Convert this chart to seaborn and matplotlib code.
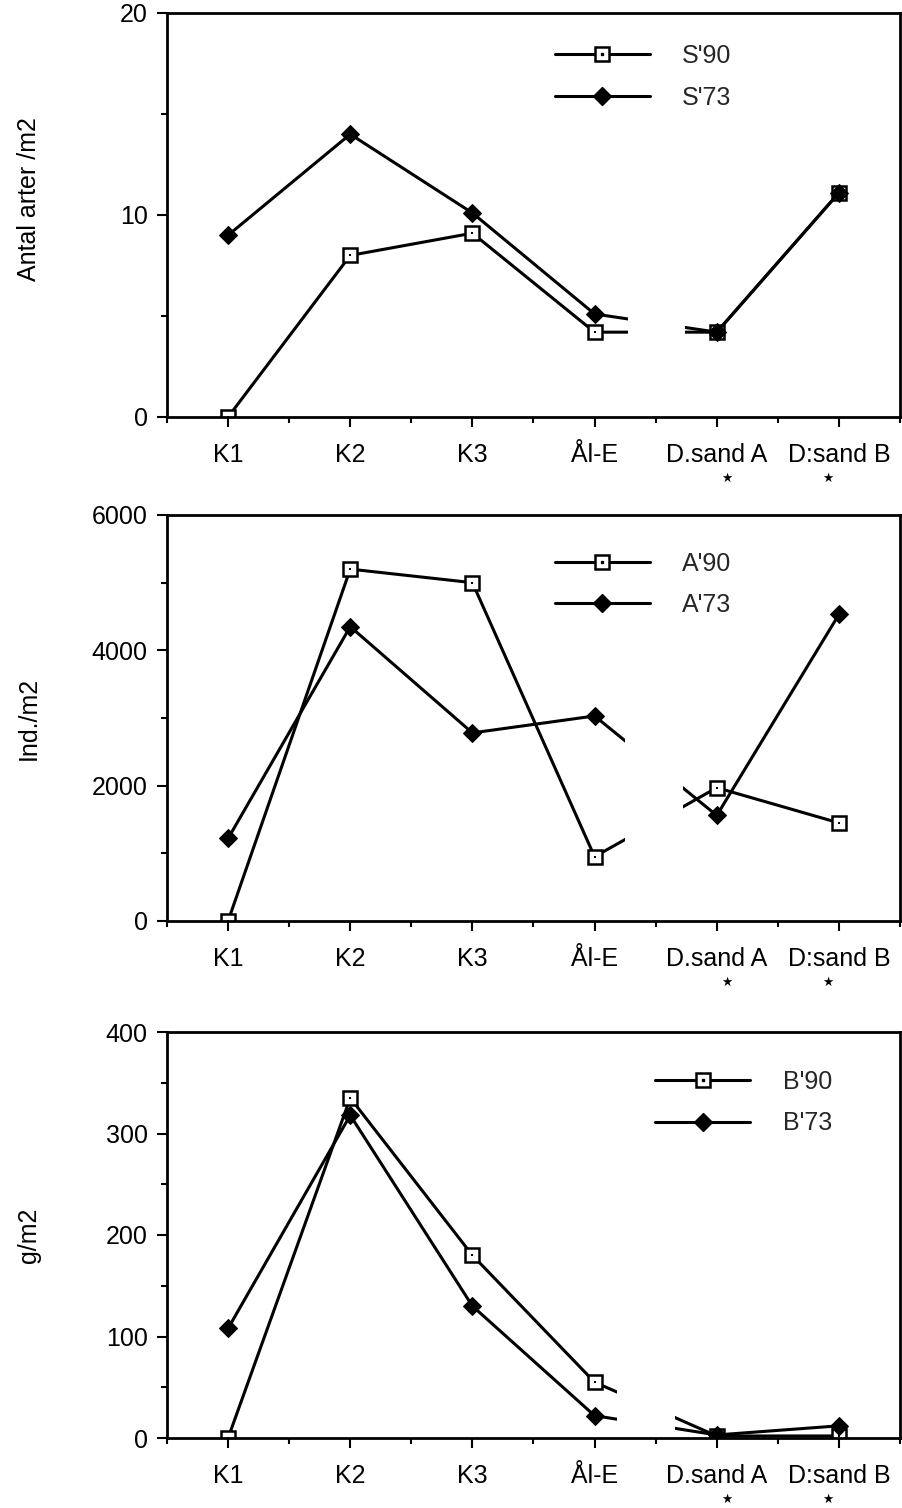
import numpy as np
import pandas as pd
import matplotlib
matplotlib.use("Agg")
import matplotlib.pyplot as plt
import seaborn as sns
from matplotlib.ticker import MultipleLocator, FixedLocator
from matplotlib.lines import Line2D
from matplotlib.legend_handler import HandlerTuple

# ---------------- data ----------------
categories = ["K1", "K2", "K3", "Ål-E", "D.sand A", "D:sand B"]
starred = ["D.sand A", "D:sand B"]

s90 = [0.0, 8.0, 9.1, 4.2, 4.2, 11.1]
s73 = [9.0, 14.0, 10.1, 5.1, 4.2, 11.1]

a90 = [0, 5200, 5000, 950, 1970, 1450]
a73 = [1220, 4350, 2780, 3030, 1560, 4530]

b90 = [0, 335, 180, 55, 2, 2]
b73 = [108, 318, 130, 22, 3, 12]

legend_s = ["S'90", "S'73"]
legend_a = ["A'90", "A'73"]
legend_b = ["B'90", "B'73"]

ylabels = ["Antal arter /m2", "Ind./m2", "g/m2"]

# ---------------- style ----------------
sns.set_theme(style="ticks")
plt.rcParams["font.family"] = ["Liberation Sans", "DejaVu Sans"]
FS = 18
LW = 2.2

fig = plt.figure(figsize=(9.03, 15.08), dpi=100)
W, H = 903, 1508

def rect(l, t, r, b):
    return [l / W, 1 - b / H, (r - l) / W, (b - t) / H]

panels = [
    dict(rect=rect(167, 13, 900, 417), y90=s90, y73=s73, labels=legend_s,
         ylim=(0, 20), major=10, minor=5, ylabel=ylabels[0], ylab_y=0.54,
         leg=(0.529, 0.842), gap=(3.27, 3.74)),
    dict(rect=rect(167, 515, 900, 921), y90=a90, y73=a73, labels=legend_a,
         ylim=(0, 6000), major=2000, minor=1000, ylabel=ylabels[1], ylab_y=0.5,
         leg=(0.529, 0.829), gap=(3.25, 3.72)),
    dict(rect=rect(167, 1032, 900, 1438), y90=b90, y73=b73, labels=legend_b,
         ylim=(0, 400), major=100, minor=50, ylabel=ylabels[2], ylab_y=0.5,
         leg=(0.666, 0.826), gap=(3.18, 3.66)),
]

xpos = np.arange(len(categories))

for p in panels:
    ax = fig.add_axes(p["rect"])
    df = pd.DataFrame({"x": xpos, "y90": p["y90"], "y73": p["y73"]})

    sns.lineplot(data=df, x="x", y="y90", ax=ax, color="black", lw=LW,
                 marker="s", markersize=9.5, markerfacecolor="white",
                 markeredgecolor="black", markeredgewidth=1.8, legend=False,
                 zorder=2)
    sns.scatterplot(data=df, x="x", y="y90", ax=ax, marker="s", s=4,
                    color="black", linewidth=0, legend=False, zorder=2.1)
    sns.lineplot(data=df, x="x", y="y73", ax=ax, color="black", lw=LW,
                 marker="D", markersize=9.5, markerfacecolor="black",
                 markeredgecolor="black", legend=False, zorder=2)

    # broken-line gap between the two site groups
    ax.axvspan(p["gap"][0], p["gap"][1], color="white", lw=0, zorder=2.2)

    ax.set_xlim(-0.5, len(categories) - 0.5)
    ax.set_ylim(*p["ylim"])
    ax.set_xticks(xpos)
    ax.set_xticklabels(categories, fontsize=FS)
    ax.xaxis.set_minor_locator(FixedLocator(np.arange(-0.5, len(categories), 1.0)))
    ax.yaxis.set_major_locator(MultipleLocator(p["major"]))
    ax.yaxis.set_minor_locator(MultipleLocator(p["minor"]))
    ax.tick_params(axis="both", which="major", direction="out", length=7,
                   width=1.5, color="black", labelsize=FS, labelcolor="black")
    ax.tick_params(axis="both", which="minor", direction="out", length=4,
                   width=1.5, color="black")
    ax.tick_params(axis="x", which="major", pad=12)
    ax.tick_params(axis="y", which="major", pad=7)

    for sp in ax.spines.values():
        sp.set_visible(True)
        sp.set_color("black")
        sp.set_linewidth(2.0)

    ax.set_xlabel("")
    ax.set_ylabel(p["ylabel"], fontsize=FS, color="black")
    ax.yaxis.set_label_coords(-0.172, p["ylab_y"])

    # stars beneath the last two labels
    for cat, dx in zip(starred, [10, -11]):
        xi = categories.index(cat)
        ax.annotate("★", xy=(xi, 0), xycoords=("data", "axes fraction"),
                    xytext=(dx, -61), textcoords="offset pixels",
                    ha="center", va="center", fontsize=9, color="black",
                    family=["DejaVu Sans"])

    h90 = Line2D([], [], color="black", lw=LW, marker="s", markersize=9.5,
                 markerfacecolor="white", markeredgecolor="black",
                 markeredgewidth=1.8)
    d90 = Line2D([], [], color="black", ls="none", marker="s", markersize=1.6)
    h73 = Line2D([], [], color="black", lw=LW, marker="D", markersize=9.5,
                 markerfacecolor="black")
    ax.legend(handles=[(h90, d90), h73], labels=p["labels"],
              loc="center left", bbox_to_anchor=p["leg"], frameon=False,
              fontsize=FS, handlelength=3.8, handletextpad=1.3,
              labelspacing=0.7, borderpad=0, borderaxespad=0, numpoints=1,
              handler_map={tuple: HandlerTuple(ndivide=1, pad=0)})

fig.savefig("out.png", dpi=100, facecolor="white")
